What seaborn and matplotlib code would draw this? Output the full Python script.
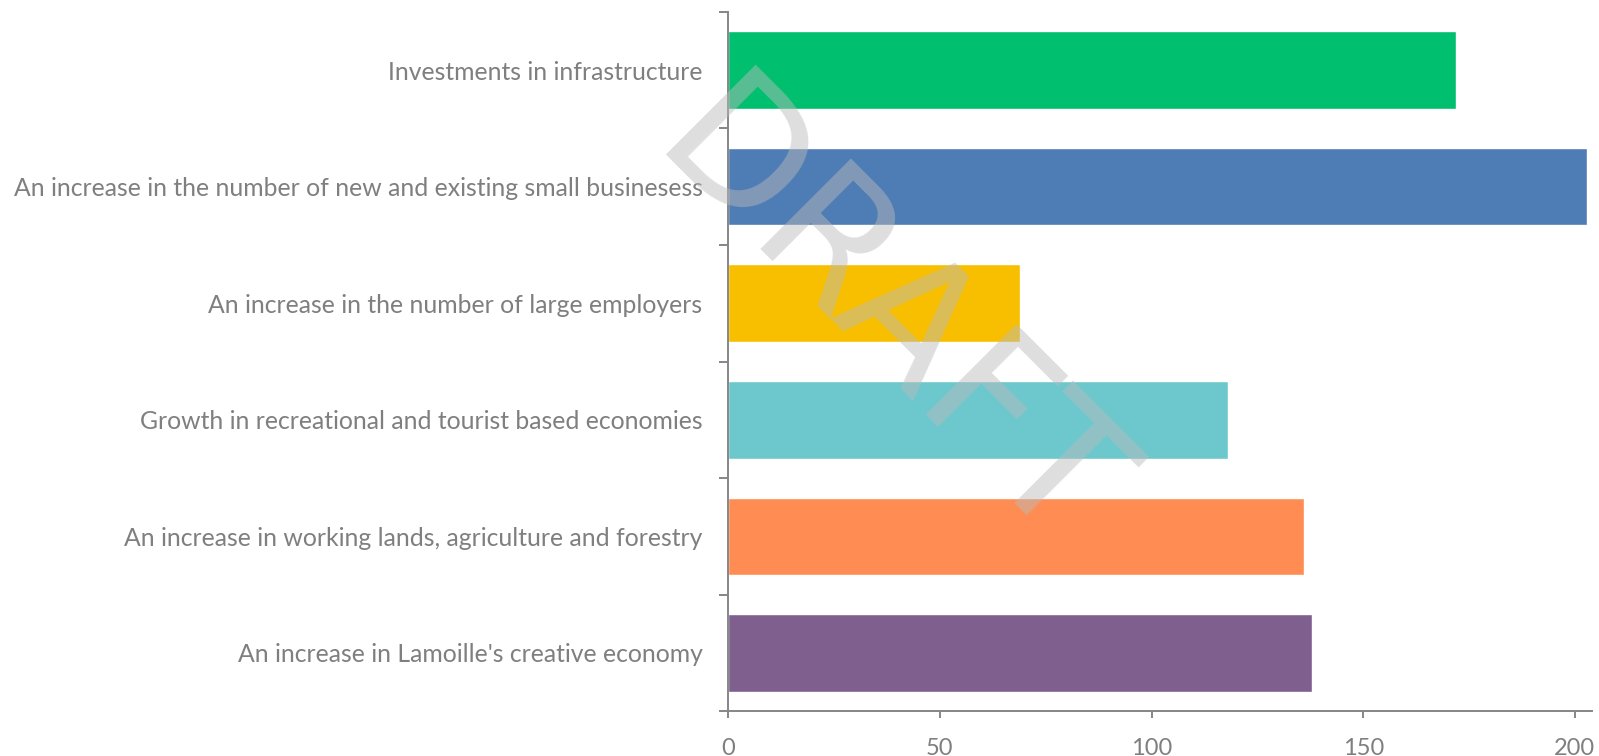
import matplotlib
matplotlib.use("Agg")
import matplotlib.pyplot as plt
import seaborn as sns
import pandas as pd

# Data
categories = [
    "Investments in infrastructure",
    "An increase in the number of new and existing small businesess",
    "An increase in the number of large employers",
    "Growth in recreational and tourist based economies",
    "An increase in working lands, agriculture and forestry",
    "An increase in Lamoille's creative economy",
]
values = [172, 203, 69, 118, 136, 138]
bar_colors = ["#00BF6F", "#4E7CB4", "#F8BF00", "#6DC8CD", "#FF8C53", "#7E5F8E"]
x_ticks = [0, 50, 100, 150, 200]

df = pd.DataFrame({"Category": categories, "Count": values})

sns.set_style("white")
plt.rcParams["font.family"] = ["Lato", "DejaVu Sans"]

W, H = 1599, 756
fig = plt.figure(figsize=(W / 100, H / 100), dpi=100)
ax = fig.add_axes([728.3 / W, 1 - 711.3 / H, (1591.7 - 728.3) / W, (711.3 - 11.7) / H])

sns.barplot(data=df, x="Count", y="Category", hue="Category", palette=bar_colors,
            legend=False, width=2 / 3, saturation=1, ax=ax)

grey = "#7F7F7F"
ax.set_xlim(0, 204.0)
ax.set_ylim(len(categories) - 0.5, -0.5)
ax.set_xlabel("")
ax.set_ylabel("")
ax.set_xticks(x_ticks)

# category labels centred, tick marks on category boundaries
ax.set_yticks(range(len(categories)))
ax.set_yticklabels(categories)
ax.set_yticks([i - 0.5 for i in range(len(categories) + 1)], minor=True)
ax.tick_params(axis="y", which="major", length=0, pad=18.5, labelsize=17.8, labelcolor=grey)
ax.tick_params(axis="y", which="minor", length=6.5, width=1.4, color="#868686", direction="out", left=True)
ax.tick_params(axis="x", which="major", length=5, width=1.4, color="#868686", direction="out",
               bottom=True, pad=14, labelsize=17, labelcolor=grey)

for side in ["top", "right"]:
    ax.spines[side].set_visible(False)
for side in ["left", "bottom"]:
    ax.spines[side].set_color("#868686")
    ax.spines[side].set_linewidth(1.4)

# watermark, anchored at the start of its baseline
fig.text(648 / W, 1 - 154 / H, "DRAFT", fontsize=126, family="DejaVu Sans", color="#BBBBBB",
         alpha=0.48, rotation=-45, rotation_mode="anchor", ha="left", va="baseline", zorder=10)

fig.savefig("out.png", dpi=100)
